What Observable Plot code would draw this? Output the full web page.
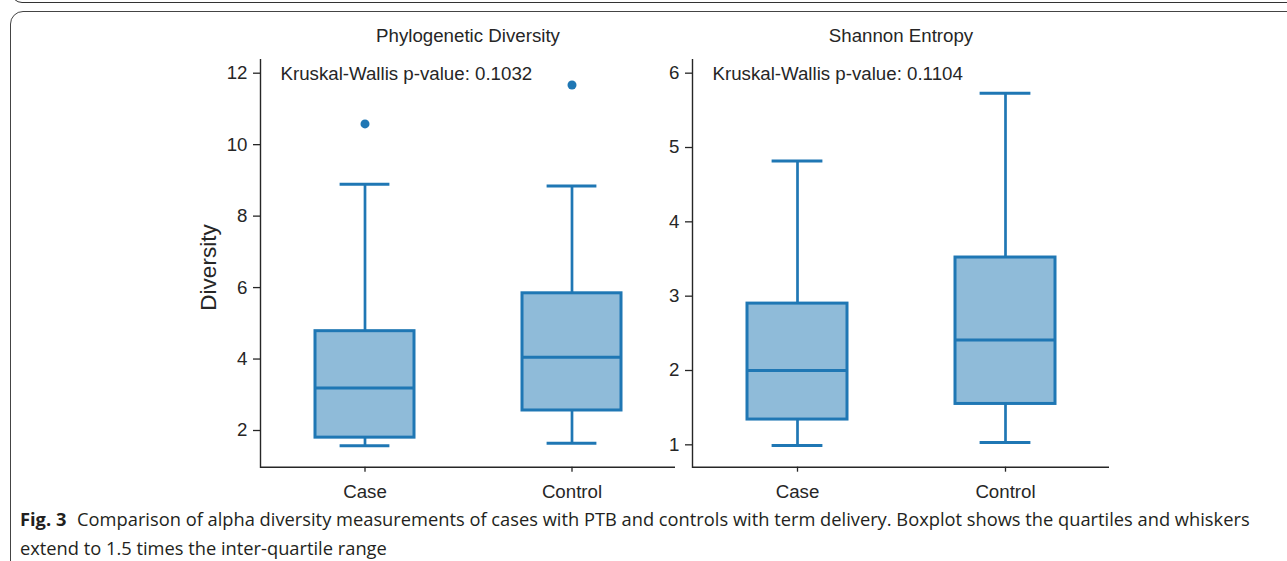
<!DOCTYPE html>
<html>
<head>
<meta charset="utf-8">
<script src="https://cdn.jsdelivr.net/npm/d3@7"></script>
<script src="https://cdn.jsdelivr.net/npm/@observablehq/plot@0.6"></script>
<style>
  html, body { margin: 0; padding: 0; background: #fff; width: 1287px; height: 561px; overflow: hidden; position: relative; }
  .frame-prev { position: absolute; left: 11px; top: -37px; width: 1300px; height: 40px; border: 1.5px solid #333; border-radius: 11px; box-sizing: border-box; }
  .frame { position: absolute; left: 10px; top: 11px; width: 1320px; height: 620px; border: 1.3px solid #444; border-radius: 13px; box-sizing: border-box; }
  .panel { position: absolute; top: 0; }
  #caption { position: absolute; left: 20px; top: 504px; width: 1265px; font-family: "Open Sans", sans-serif; font-size: 18.3px; line-height: 29px; color: #231f20; white-space: nowrap; }
  #caption b { font-weight: 700; margin-right: 6px; }
</style>
</head>
<body>
<div class="frame-prev"></div>
<div class="frame"></div>
<div id="p1" class="panel" style="left:0px;width:680px;"></div>
<div id="p2" class="panel" style="left:600px;width:515px;"></div>
<div id="caption"><b>Fig. 3</b> Comparison of alpha diversity measurements of cases with PTB and controls with term delivery. Boxplot shows the quartiles and whiskers<br>extend to 1.5 times the inter-quartile range</div>
<script>
// ---- data ----
const categories = ["Case", "Control"];

// Phylogenetic Diversity
const pdLow    = [1.57, 1.64];
const pdQ1     = [1.80, 2.56];
const pdMedian = [3.19, 4.05];
const pdQ3     = [4.78, 5.84];
const pdHigh   = [8.89, 8.84];
const pdOutlierGroups = ["Case", "Control"];
const pdOutlierValues = [10.58, 11.67];
const pdTicks = [2, 4, 6, 8, 10, 12];

// Shannon Entropy
const shLow    = [0.99, 1.03];
const shQ1     = [1.34, 1.55];
const shMedian = [2.00, 2.41];
const shQ3     = [2.90, 3.52];
const shHigh   = [4.82, 5.73];
const shTicks = [1, 2, 3, 4, 5, 6];

const pdTitle = "Phylogenetic Diversity";
const shTitle = "Shannon Entropy";
const pdPValue = "Kruskal-Wallis p-value: 0.1032";
const shPValue = "Kruskal-Wallis p-value: 0.1104";
const yLabel = "Diversity";

// ---- build tables ----
function rowsOf(low, q1, med, q3, high) {
  return categories.map((c, i) => ({group: c, low: low[i], q1: q1[i], median: med[i], q3: q3[i], high: high[i]}));
}
const pdRows = rowsOf(pdLow, pdQ1, pdMedian, pdQ3, pdHigh);
const shRows = rowsOf(shLow, shQ1, shMedian, shQ3, shHigh);
const pdOutliers = pdOutlierGroups.map((g, i) => ({group: g, value: pdOutlierValues[i]}));

const blue = "#1f77b4";
const ink = "#262626";
const fs = 18.7;

function panel({rows, outliers, domain, ticks, title, pvalue, label, width, marginLeft, marginRight}) {
  const marks = [
    Plot.barY(rows, {x: "group", y1: "q1", y2: "q3", fill: blue, fillOpacity: 0.5, stroke: blue, strokeWidth: 3, insetLeft: 54, insetRight: 54}),
    Plot.ruleX(rows, {x: "group", y1: "q3", y2: "high", stroke: blue, strokeWidth: 2.7}),
    Plot.ruleX(rows, {x: "group", y1: "low", y2: "q1", stroke: blue, strokeWidth: 2.7}),
    Plot.tickY(rows, {x: "group", y: "median", stroke: blue, strokeWidth: 3, insetLeft: 54, insetRight: 54}),
    Plot.tickY(rows, {x: "group", y: "high", stroke: blue, strokeWidth: 3, insetLeft: 78.6, insetRight: 78.6}),
    Plot.tickY(rows, {x: "group", y: "low", stroke: blue, strokeWidth: 3, insetLeft: 78.6, insetRight: 78.6}),
    Plot.axisY({ticks: ticks, tickFormat: d3.format("d"), tickSize: 7, tickPadding: 6, label: null, stroke: ink, strokeWidth: 1.3, fontSize: fs}),
    Plot.axisX({tickSize: 5, tickPadding: 13, label: null, stroke: ink, strokeWidth: 1.3, fontSize: fs}),
    Plot.ruleY([domain[0]], {stroke: ink, strokeWidth: 1.4}),
    Plot.frame({anchor: "left", stroke: ink, strokeWidth: 1.4}),
    Plot.text([title], {frameAnchor: "top", dy: -24, fontSize: fs, fill: ink, lineAnchor: "middle"}),
    Plot.text([pvalue], {frameAnchor: "top-left", dx: 20, dy: 14, fontSize: fs, fill: ink, textAnchor: "start", lineAnchor: "middle"})
  ];
  if (outliers) marks.push(Plot.dot(outliers, {x: "group", y: "value", r: 4.5, fill: blue, stroke: null}));
  if (label) marks.push(Plot.text([label], {frameAnchor: "left", dx: -52, dy: 4, rotate: -90, textAnchor: "middle", lineAnchor: "middle", fontSize: 22.5, fill: ink}));
  return Plot.plot({
    width, height: 500,
    marginLeft, marginRight, marginTop: 59.3, marginBottom: 33.3,
    style: {fontFamily: "Liberation Sans, Arial, sans-serif", fontSize: fs + "px", color: ink, background: "transparent", overflow: "visible"},
    x: {domain: categories, padding: 0},
    y: {domain: domain},
    marks
  });
}

document.getElementById("p1").appendChild(panel({
  rows: pdRows, outliers: pdOutliers, domain: [0.973, 12.375], ticks: pdTicks,
  title: pdTitle, pvalue: pdPValue, label: yLabel, width: 680, marginLeft: 260, marginRight: 5
}));
document.getElementById("p2").appendChild(panel({
  rows: shRows, outliers: null, domain: [0.699, 6.18], ticks: shTicks,
  title: shTitle, pvalue: shPValue, label: null, width: 515, marginLeft: 92, marginRight: 6
}));
</script>
</body>
</html>
